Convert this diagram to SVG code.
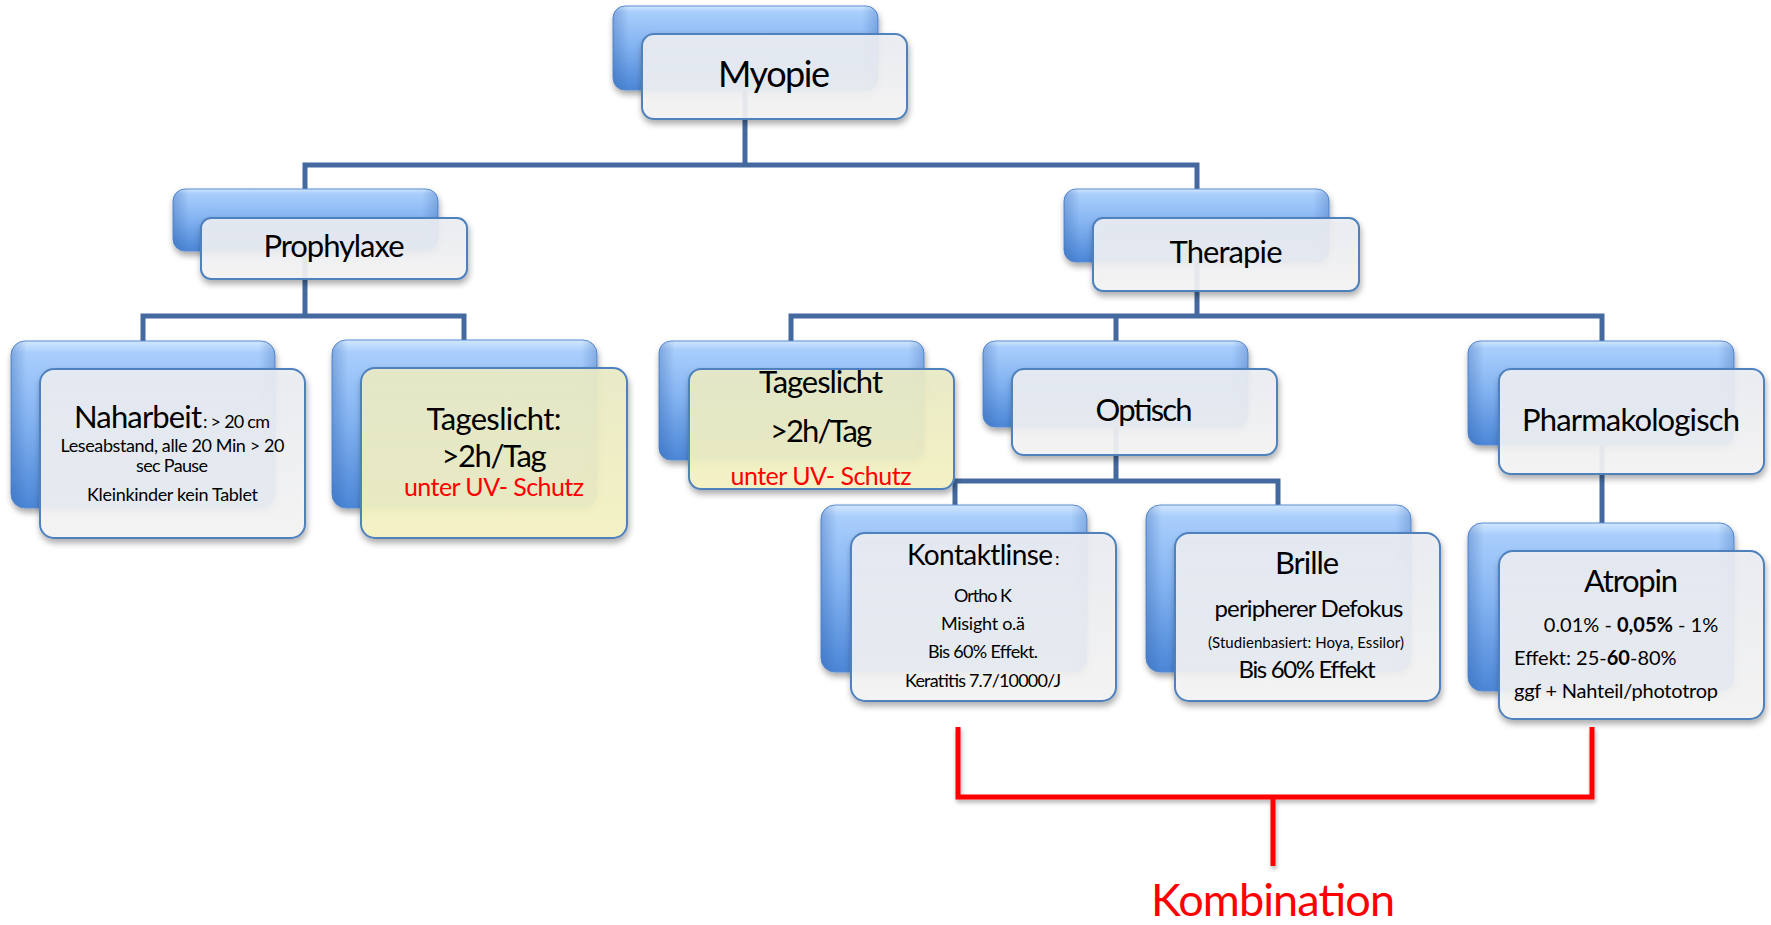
<svg xmlns="http://www.w3.org/2000/svg" width="1771" height="925" viewBox="0 0 1771 925">
<defs>
  <linearGradient id="blue" x1="0" y1="0" x2="0" y2="1">
    <stop offset="0" stop-color="#d2e7ff"/>
    <stop offset="0.07" stop-color="#a9cefc"/>
    <stop offset="0.45" stop-color="#86b5f2"/>
    <stop offset="1" stop-color="#4b86d6"/>
  </linearGradient>
  <linearGradient id="blueSide" x1="0" y1="0" x2="1" y2="0">
    <stop offset="0" stop-color="#2f5fa8" stop-opacity="0.35"/>
    <stop offset="0.06" stop-color="#2f5fa8" stop-opacity="0"/>
    <stop offset="0.94" stop-color="#2f5fa8" stop-opacity="0"/>
    <stop offset="1" stop-color="#2f5fa8" stop-opacity="0.3"/>
  </linearGradient>
  <linearGradient id="white" x1="0" y1="0" x2="0" y2="1">
    <stop offset="0" stop-color="#eceef3"/>
    <stop offset="1" stop-color="#f6f6f6"/>
  </linearGradient>
  <linearGradient id="yellow" x1="0" y1="0" x2="0" y2="1">
    <stop offset="0" stop-color="#eaebc6"/>
    <stop offset="1" stop-color="#f6f4c3"/>
  </linearGradient>
  <filter id="sh" x="-10%" y="-10%" width="125%" height="130%">
    <feDropShadow dx="1" dy="4" stdDeviation="3" flood-color="#000" flood-opacity="0.35"/>
  </filter>
  <filter id="shr" x="-5%" y="-10%" width="110%" height="130%">
    <feDropShadow dx="1" dy="3" stdDeviation="2" flood-color="#000" flood-opacity="0.3"/>
  </filter>
</defs>
<style>
  .back { fill: url(#blue); stroke: #5b8dd3; stroke-width: 1; filter: url(#sh); }
  .side { fill: url(#blueSide); }
  .front { fill: url(#white); fill-opacity: 0.9; stroke: #4f81bd; stroke-width: 2; filter: url(#sh); }
  .fronty { fill: url(#yellow); fill-opacity: 0.92; stroke: #4f81bd; stroke-width: 2; filter: url(#sh); }
  .conn { fill: none; stroke: #44699e; stroke-width: 5; }
  .red { fill: none; stroke: #ff0000; stroke-width: 5; filter: url(#shr); }
  text { font-family: Lato, "Liberation Sans", sans-serif; fill: #000; text-anchor: middle; }
  .big { font-size: 31px; }
  .sm { font-size: 18px; }
  .rt { fill: #ff0000; }
</style>

<g id="connectors">
  <path class="conn" d="M745,60 V165 M305,220 V165 H1197 V220"/>
  <path class="conn" d="M305,240 V316 M143,360 V316 H464 V360"/>
  <path class="conn" d="M1197,250 V316 M791,360 V316 H1602 V360 M1116,316 V360"/>
  <path class="conn" d="M1116,400 V481 M955,520 V481 H1278 V520"/>
  <path class="conn" d="M1602,400 V540"/>
</g>

<g id="myopie">
  <rect class="back" x="613" y="6" width="265" height="84" rx="12"/>
  <rect class="side" x="613" y="6" width="265" height="84" rx="12"/>
  <rect class="front" x="642" y="34" width="265" height="85" rx="12"/>
  <text x="774" y="87" style="font-size:36px" textLength="112">Myopie</text>
</g>

<g id="prophylaxe">
  <rect class="back" x="173" y="189" width="265" height="62" rx="12"/>
  <rect class="side" x="173" y="189" width="265" height="62" rx="12"/>
  <rect class="front" x="201" y="218" width="266" height="61" rx="10"/>
  <text class="big" x="334" y="257" textLength="141">Prophylaxe</text>
</g>

<g id="therapie">
  <rect class="back" x="1064" y="189" width="265" height="73" rx="12"/>
  <rect class="side" x="1064" y="189" width="265" height="73" rx="12"/>
  <rect class="front" x="1093" y="218" width="266" height="73" rx="10"/>
  <text class="big" x="1226" y="263" textLength="113">Therapie</text>
</g>

<g id="naharbeit">
  <rect class="back" x="11" y="341" width="264" height="167" rx="14"/>
  <rect class="side" x="11" y="341" width="264" height="167" rx="14"/>
  <rect class="front" x="40" y="369" width="265" height="169" rx="14"/>
  <text x="74" y="428" style="text-anchor:start"><tspan class="big" textLength="128">Naharbeit</tspan><tspan class="sm" x="203" textLength="67">: &gt; 20 cm</tspan></text>
  <text class="sm" x="172.5" y="452" textLength="224">Leseabstand, alle 20 Min &gt; 20</text>
  <text class="sm" x="172" y="472" textLength="72">sec Pause</text>
  <text class="sm" x="172.5" y="501" textLength="171">Kleinkinder  kein Tablet</text>
</g>

<g id="tageslicht-prophylaxe">
  <rect class="back" x="332" y="340" width="265" height="168" rx="14"/>
  <rect class="side" x="332" y="340" width="265" height="168" rx="14"/>
  <rect class="fronty" x="361" y="368" width="266" height="170" rx="14"/>
  <text class="big" x="494" y="430" textLength="135">Tageslicht:</text>
  <text class="big" x="494" y="467" textLength="105">&gt;2h/Tag</text>
  <text class="rt" x="494" y="496" style="font-size:25px" textLength="180">unter UV- Schutz</text>
</g>

<g id="tageslicht-therapie">
  <rect class="back" x="659" y="341" width="265" height="119" rx="12"/>
  <rect class="side" x="659" y="341" width="265" height="119" rx="12"/>
  <rect class="fronty" x="689" y="369" width="265" height="120" rx="12"/>
  <text class="big" x="821" y="393" textLength="124">Tageslicht</text>
  <text class="big" x="821" y="442" textLength="102">&gt;2h/Tag</text>
  <text class="rt" x="821" y="485" style="font-size:25px" textLength="181">unter UV- Schutz</text>
</g>

<g id="optisch">
  <rect class="back" x="983" y="341" width="265" height="86" rx="12"/>
  <rect class="side" x="983" y="341" width="265" height="86" rx="12"/>
  <rect class="front" x="1012" y="369" width="265" height="86" rx="12"/>
  <text class="big" x="1144" y="421" textLength="97">Optisch</text>
</g>

<g id="pharmakologisch">
  <rect class="back" x="1468" y="341" width="266" height="104" rx="12"/>
  <rect class="side" x="1468" y="341" width="266" height="104" rx="12"/>
  <rect class="front" x="1499" y="369" width="265" height="105" rx="12"/>
  <text class="big" x="1631" y="431" textLength="218">Pharmakologisch</text>
</g>

<g id="kontaktlinse">
  <rect class="back" x="821" y="505" width="266" height="167" rx="14"/>
  <rect class="side" x="821" y="505" width="266" height="167" rx="14"/>
  <rect class="front" x="851" y="533" width="265" height="168" rx="14"/>
  <text x="907" y="565" style="text-anchor:start"><tspan style="font-size:28px" textLength="146">Kontaktlinse</tspan><tspan class="sm" x="1055">:</tspan></text>
  <text class="sm" x="983" y="602" textLength="58">Ortho K</text>
  <text class="sm" x="983" y="630" textLength="84">Misight o.ä</text>
  <text class="sm" x="983" y="658" textLength="110">Bis 60% Effekt.</text>
  <text class="sm" x="983" y="687" textLength="156">Keratitis 7.7/10000/J</text>
</g>

<g id="brille">
  <rect class="back" x="1146" y="505" width="265" height="167" rx="14"/>
  <rect class="side" x="1146" y="505" width="265" height="167" rx="14"/>
  <rect class="front" x="1175" y="533" width="265" height="168" rx="14"/>
  <text class="big" x="1307" y="574" textLength="64">Brille</text>
  <text x="1309" y="617" style="font-size:24px" textLength="189">peripherer Defokus</text>
  <text x="1306" y="648" style="font-size:15px" textLength="196">(Studienbasiert: Hoya, Essilor)</text>
  <text x="1307" y="678" style="font-size:24px" textLength="137">Bis 60% Effekt</text>
</g>

<g id="atropin">
  <rect class="back" x="1468" y="523" width="266" height="168" rx="14"/>
  <rect class="side" x="1468" y="523" width="266" height="168" rx="14"/>
  <rect class="front" x="1499" y="551" width="265" height="168" rx="14"/>
  <text class="big" x="1631" y="592" textLength="94">Atropin</text>
  <text x="1631" y="632" style="font-size:20px">0.01% - <tspan style="font-weight:bold">0,05%</tspan> - 1%</text>
  <text x="1514" y="665" style="font-size:20px;text-anchor:start">Effekt: 25-<tspan style="font-weight:bold">60</tspan>-80%</text>
  <text x="1514" y="698" style="font-size:20px;text-anchor:start" textLength="204">ggf + Nahteil/phototrop</text>
</g>

<g id="kombination">
  <path class="red" d="M958,727 V797 H1592 V727 M1273,797 V866"/>
  <text class="rt" x="1273" y="916" style="font-size:45px" textLength="244">Kombination</text>
</g>
</svg>
